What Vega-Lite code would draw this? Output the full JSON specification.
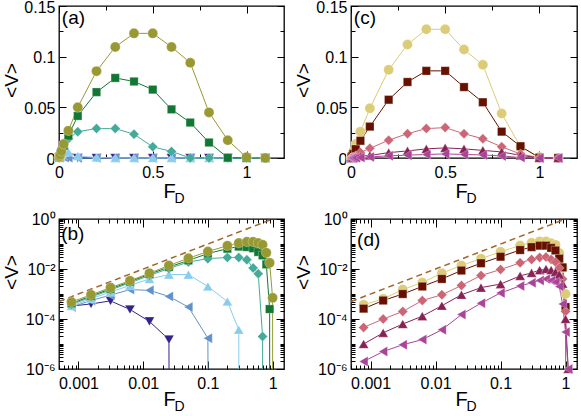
{
"$schema": "https://vega.github.io/schema/vega-lite/v6.json",
"autosize": "none",
"padding": {"left": 59, "top": 6, "right": 522, "bottom": 410},
"config": {
  "font": "Liberation Sans",
  "view": {"stroke": "black", "strokeWidth": 1.3},
  "axis": {"grid": false, "domain": false, "labelFontSize": 16, "labelColor": "black", "labelFont": "Liberation Sans", "titleFont": "Liberation Sans", "titleFontWeight": "normal", "titleColor": "black", "labelFlush": false, "labelOverlap": false},
  "point": {"stroke": "white", "strokeWidth": 0.8, "strokeOpacity": 0.35},
  "text": {"font": "Liberation Sans", "fontSize": 19}
},
"datasets": {
"L": [
{"s":"n","x":0.00078125,"v":0.00033},{"s":"n","x":0.0015625,"v":0.0004},{"s":"n","x":0.003125,"v":0.00053},{"s":"n","x":0.00625,"v":0.00024},{"s":"n","x":0.0125,"v":0.00008},{"s":"n","x":0.025,"v":0.000015},{"s":"n","x":0.05,"v":0},{"s":"n","x":0.1,"v":0},{"s":"n","x":0.2,"v":0},{"s":"n","x":0.3,"v":0},{"s":"n","x":0.4,"v":0},{"s":"n","x":0.5,"v":0},{"s":"n","x":0.6,"v":0},{"s":"n","x":0.7,"v":0},{"s":"n","x":0.8,"v":0},{"s":"n","x":0.9,"v":0},{"s":"n","x":1,"v":0},{"s":"n","x":1.1,"v":0},
{"s":"sb","x":0.00078125,"v":0.0003},{"s":"sb","x":0.0015625,"v":0.00055},{"s":"sb","x":0.003125,"v":0.0009},{"s":"sb","x":0.00625,"v":0.0015},{"s":"sb","x":0.0125,"v":0.0014},{"s":"sb","x":0.025,"v":0.0008},{"s":"sb","x":0.05,"v":0.0003},{"s":"sb","x":0.1,"v":0.000017},{"s":"sb","x":0.2,"v":0},{"s":"sb","x":0.3,"v":0},{"s":"sb","x":0.4,"v":0},{"s":"sb","x":0.5,"v":0},{"s":"sb","x":0.6,"v":0},{"s":"sb","x":0.7,"v":0},{"s":"sb","x":0.8,"v":0},{"s":"sb","x":0.9,"v":0},{"s":"sb","x":1,"v":0},{"s":"sb","x":1.1,"v":0},
{"s":"lb","x":0.00078125,"v":0.00033},{"s":"lb","x":0.0015625,"v":0.00065},{"s":"lb","x":0.003125,"v":0.0012},{"s":"lb","x":0.00625,"v":0.0022},{"s":"lb","x":0.0125,"v":0.004},{"s":"lb","x":0.025,"v":0.006},{"s":"lb","x":0.05,"v":0.006},{"s":"lb","x":0.1,"v":0.002},{"s":"lb","x":0.2,"v":0.0005},{"s":"lb","x":0.3,"v":0.000037},{"s":"lb","x":0.4,"v":0},{"s":"lb","x":0.5,"v":0},{"s":"lb","x":0.6,"v":0},{"s":"lb","x":0.7,"v":0},{"s":"lb","x":0.8,"v":0},{"s":"lb","x":0.9,"v":0},{"s":"lb","x":1,"v":0},{"s":"lb","x":1.1,"v":0},
{"s":"t","x":0.00078125,"v":0.00038},{"s":"t","x":0.0015625,"v":0.00075},{"s":"t","x":0.003125,"v":0.00145},{"s":"t","x":0.00625,"v":0.0028},{"s":"t","x":0.0125,"v":0.0055},{"s":"t","x":0.025,"v":0.0105},{"s":"t","x":0.05,"v":0.019},{"s":"t","x":0.1,"v":0.026},{"s":"t","x":0.2,"v":0.029},{"s":"t","x":0.3,"v":0.029},{"s":"t","x":0.4,"v":0.0235},{"s":"t","x":0.5,"v":0.011},{"s":"t","x":0.6,"v":0.0065},{"s":"t","x":0.7,"v":0.00002},{"s":"t","x":0.8,"v":0},{"s":"t","x":0.9,"v":0},{"s":"t","x":1,"v":0},{"s":"t","x":1.1,"v":0},
{"s":"g","x":0.00078125,"v":0.00042},{"s":"g","x":0.0015625,"v":0.00083},{"s":"g","x":0.003125,"v":0.0016},{"s":"g","x":0.00625,"v":0.0031},{"s":"g","x":0.0125,"v":0.0062},{"s":"g","x":0.025,"v":0.012},{"s":"g","x":0.05,"v":0.022},{"s":"g","x":0.1,"v":0.0415},{"s":"g","x":0.2,"v":0.065},{"s":"g","x":0.3,"v":0.079},{"s":"g","x":0.4,"v":0.0755},{"s":"g","x":0.5,"v":0.0675},{"s":"g","x":0.6,"v":0.048},{"s":"g","x":0.7,"v":0.035},{"s":"g","x":0.8,"v":0.0153},{"s":"g","x":0.9,"v":0.00025},{"s":"g","x":1,"v":0},{"s":"g","x":1.1,"v":0},
{"s":"o","x":0.00078125,"v":0.00048},{"s":"o","x":0.0015625,"v":0.00093},{"s":"o","x":0.003125,"v":0.0018},{"s":"o","x":0.00625,"v":0.0034},{"s":"o","x":0.0125,"v":0.0068},{"s":"o","x":0.025,"v":0.0138},{"s":"o","x":0.05,"v":0.027},{"s":"o","x":0.1,"v":0.05},{"s":"o","x":0.2,"v":0.0857},{"s":"o","x":0.3,"v":0.1096},{"s":"o","x":0.4,"v":0.123},{"s":"o","x":0.5,"v":0.123},{"s":"o","x":0.6,"v":0.1096},{"s":"o","x":0.7,"v":0.094},{"s":"o","x":0.8,"v":0.045},{"s":"o","x":0.9,"v":0.0176},{"s":"o","x":1,"v":0.0007},{"s":"o","x":1.1,"v":0}
],
"R": [
{"s":"c","x":0.00078125,"v":0.00037},{"s":"c","x":0.0015625,"v":0.00064},{"s":"c","x":0.003125,"v":0.0015},{"s":"c","x":0.00625,"v":0.0029},{"s":"c","x":0.0125,"v":0.0068},{"s":"c","x":0.025,"v":0.0138},{"s":"c","x":0.05,"v":0.026},{"s":"c","x":0.1,"v":0.049},{"s":"c","x":0.2,"v":0.087},{"s":"c","x":0.3,"v":0.112},{"s":"c","x":0.4,"v":0.127},{"s":"c","x":0.5,"v":0.127},{"s":"c","x":0.6,"v":0.107},{"s":"c","x":0.7,"v":0.092},{"s":"c","x":0.8,"v":0.044},{"s":"c","x":0.9,"v":0.011},{"s":"c","x":1,"v":0.001},{"s":"c","x":1.1,"v":0},
{"s":"q","x":0.00078125,"v":0.00026},{"s":"q","x":0.0015625,"v":0.00055},{"s":"q","x":0.003125,"v":0.001},{"s":"q","x":0.00625,"v":0.002},{"s":"q","x":0.0125,"v":0.004},{"s":"q","x":0.025,"v":0.0087},{"s":"q","x":0.05,"v":0.017},{"s":"q","x":0.1,"v":0.031},{"s":"q","x":0.2,"v":0.0575},{"s":"q","x":0.3,"v":0.075},{"s":"q","x":0.4,"v":0.086},{"s":"q","x":0.5,"v":0.086},{"s":"q","x":0.6,"v":0.07},{"s":"q","x":0.7,"v":0.055},{"s":"q","x":0.8,"v":0.026},{"s":"q","x":0.9,"v":0.0116},{"s":"q","x":1,"v":0.0003},{"s":"q","x":1.1,"v":0},
{"s":"p","x":0.00078125,"v":0.000046},{"s":"p","x":0.0015625,"v":0.0001},{"s":"p","x":0.003125,"v":0.0002},{"s":"p","x":0.00625,"v":0.00055},{"s":"p","x":0.0125,"v":0.00093},{"s":"p","x":0.025,"v":0.0022},{"s":"p","x":0.05,"v":0.0055},{"s":"p","x":0.1,"v":0.0095},{"s":"p","x":0.2,"v":0.0176},{"s":"p","x":0.3,"v":0.024},{"s":"p","x":0.4,"v":0.029},{"s":"p","x":0.5,"v":0.03},{"s":"p","x":0.6,"v":0.024},{"s":"p","x":0.7,"v":0.019},{"s":"p","x":0.8,"v":0.011},{"s":"p","x":0.9,"v":0.004},{"s":"p","x":1,"v":0.0002},{"s":"p","x":1.1,"v":0},
{"s":"w","x":0.00078125,"v":0.00001},{"s":"w","x":0.0015625,"v":0.000028},{"s":"w","x":0.003125,"v":0.000063},{"s":"w","x":0.00625,"v":0.00013},{"s":"w","x":0.0125,"v":0.00034},{"s":"w","x":0.025,"v":0.00093},{"s":"w","x":0.05,"v":0.0018},{"s":"w","x":0.1,"v":0.0025},{"s":"w","x":0.2,"v":0.0053},{"s":"w","x":0.3,"v":0.007},{"s":"w","x":0.4,"v":0.009},{"s":"w","x":0.5,"v":0.01},{"s":"w","x":0.6,"v":0.009},{"s":"w","x":0.7,"v":0.0075},{"s":"w","x":0.8,"v":0.006},{"s":"w","x":0.9,"v":0.0026},{"s":"w","x":1,"v":0.0001},{"s":"w","x":1.1,"v":0.000001},
{"s":"m","x":0.00078125,"v":0.000002},{"s":"m","x":0.0015625,"v":0.000005},{"s":"m","x":0.003125,"v":0.0000093},{"s":"m","x":0.00625,"v":0.000015},{"s":"m","x":0.0125,"v":0.000037},{"s":"m","x":0.025,"v":0.00015},{"s":"m","x":0.05,"v":0.00043},{"s":"m","x":0.1,"v":0.0011},{"s":"m","x":0.2,"v":0.0021},{"s":"m","x":0.3,"v":0.0028},{"s":"m","x":0.4,"v":0.0035},{"s":"m","x":0.5,"v":0.004},{"s":"m","x":0.6,"v":0.0035},{"s":"m","x":0.7,"v":0.003},{"s":"m","x":0.8,"v":0.002},{"s":"m","x":0.9,"v":0.0004},{"s":"m","x":1,"v":0.00003},{"s":"m","x":1.1,"v":0.000001}
]
},
"columns": 2,
"spacing": {"row": 61, "column": 67},
"bounds": "flush",
"resolve": {"scale": {"color": "independent", "shape": "independent", "x": "independent", "y": "independent"}},
"concat": [
{
 "width": 225, "height": 152,
 "data": {"name": "L"},
 "resolve": {"axis": {"x": "independent", "y": "independent"}},
 "layer": [
  {"mark": {"type": "line", "strokeWidth": 1},
   "encoding": {
    "x": {"field": "x", "type": "quantitative", "scale": {"domain": [0, 1.2], "nice": false, "zero": false}, "axis": {"orient": "bottom", "values": [0, 0.5, 1], "labelExpr": "format(datum.value, '.2~g')", "ticks": false, "labelPadding": 6, "title": "F", "titleFontSize": 20, "titleX": 110, "titleY": 39, "titleAlign": "center", "titleBaseline": "alphabetic"}},
    "y": {"field": "v", "type": "quantitative", "scale": {"domain": [0, 0.15], "nice": false, "zero": false}, "axis": {"orient": "left", "values": [0, 0.05, 0.1, 0.15], "labelExpr": "format(datum.value, '.2~g')", "ticks": false, "labelPadding": 4, "labelOffset": 1, "title": "<V>", "titleFontSize": 19, "titleX": -42, "titleY": 74, "titleAlign": "center", "titleBaseline": "alphabetic", "titleAngle": -90}},
    "color": {"field": "s", "type": "nominal", "scale": {"domain": ["n","sb","lb","t","g","o"], "range": ["#332288","#5F91CD","#88CCEE","#44AA99","#117733","#999933"]}, "legend": null}
   }},
  {"mark": {"type": "point", "filled": true, "opacity": 1},
   "encoding": {
    "x": {"field": "x", "type": "quantitative", "axis": null},
    "y": {"field": "v", "type": "quantitative", "axis": null},
    "color": {"field": "s", "type": "nominal", "legend": null},
    "shape": {"field": "s", "type": "nominal", "scale": {"domain": ["n","sb","lb","t","g","o"], "range": ["triangle-down","triangle-left","triangle-up","diamond","square","circle"]}, "legend": null},
    "size": {"condition": {"test": "datum.s === 'g'", "value": 70}, "value": 100}
   }},
  {"data": {"values": [{"x": 0.015, "v": 0.138, "t": "(a)"}]},
   "mark": {"type": "text", "align": "left", "baseline": "middle", "fontSize": 19},
   "encoding": {"x": {"field": "x", "type": "quantitative", "axis": null}, "y": {"field": "v", "type": "quantitative", "axis": null}, "text": {"field": "t"}}},
  {"mark": {"type": "point", "opacity": 0},
   "encoding": {
    "x": {"field": "x", "type": "quantitative", "axis": {"orient": "bottom", "values": [0,0.25,0.5,0.75,1], "labels": false, "ticks": true, "tickColor": "black", "tickWidth": 1, "tickSize": {"condition": {"test": "abs(datum.value*2-round(datum.value*2))<1e-6", "value": -7}, "value": -4}, "title": null}},
    "y": {"field": "v", "type": "quantitative", "axis": {"orient": "left", "values": [0,0.025,0.05,0.075,0.1,0.125,0.15], "labels": false, "ticks": true, "tickColor": "black", "tickWidth": 1, "tickSize": {"condition": {"test": "abs(datum.value*20-round(datum.value*20))<1e-6", "value": -7}, "value": -4}, "title": null}}
   }},
  {"mark": {"type": "point", "opacity": 0},
   "encoding": {
    "x": {"field": "x", "type": "quantitative", "axis": {"orient": "top", "values": [0,0.25,0.5,0.75,1], "labels": false, "ticks": true, "tickColor": "black", "tickWidth": 1, "tickSize": {"condition": {"test": "abs(datum.value*2-round(datum.value*2))<1e-6", "value": -7}, "value": -4}, "title": null}},
    "y": {"field": "v", "type": "quantitative", "axis": {"orient": "right", "values": [0,0.025,0.05,0.075,0.1,0.125,0.15], "labels": false, "ticks": true, "tickColor": "black", "tickWidth": 1, "tickSize": {"condition": {"test": "abs(datum.value*20-round(datum.value*20))<1e-6", "value": -7}, "value": -4}, "title": null}}
   }},
  {"mark": {"type": "point", "opacity": 0},
   "encoding": {
    "x": {"field": "x", "type": "quantitative", "axis": {"orient": "bottom", "labels": false, "ticks": false, "title": "D", "titleFontSize": 14, "titleX": 120, "titleY": 44, "titleAlign": "center", "titleBaseline": "alphabetic"}},
    "y": {"field": "v", "type": "quantitative", "axis": null}
   }}
 ]
},
{
 "width": 226, "height": 152,
 "data": {"name": "R"},
 "resolve": {"axis": {"x": "independent", "y": "independent"}},
 "layer": [
  {"mark": {"type": "line", "strokeWidth": 1},
   "encoding": {
    "x": {"field": "x", "type": "quantitative", "scale": {"domain": [0, 1.2], "nice": false, "zero": false}, "axis": {"orient": "bottom", "values": [0, 0.5, 1], "labelExpr": "format(datum.value, '.2~g')", "ticks": false, "labelPadding": 6, "title": "F", "titleFontSize": 20, "titleX": 110, "titleY": 39, "titleAlign": "center", "titleBaseline": "alphabetic"}},
    "y": {"field": "v", "type": "quantitative", "scale": {"domain": [0, 0.15], "nice": false, "zero": false}, "axis": {"orient": "left", "values": [0, 0.05, 0.1, 0.15], "labelExpr": "format(datum.value, '.2~g')", "ticks": false, "labelPadding": 4, "labelOffset": 1, "title": "<V>", "titleFontSize": 19, "titleX": -42, "titleY": 74, "titleAlign": "center", "titleBaseline": "alphabetic", "titleAngle": -90}},
    "color": {"field": "s", "type": "nominal", "scale": {"domain": ["c","q","p","w","m"], "range": ["#DDCC77","#661100","#CC6677","#882255","#AA4499"]}, "legend": null}
   }},
  {"mark": {"type": "point", "filled": true, "opacity": 1},
   "encoding": {
    "x": {"field": "x", "type": "quantitative", "axis": null},
    "y": {"field": "v", "type": "quantitative", "axis": null},
    "color": {"field": "s", "type": "nominal", "legend": null},
    "shape": {"field": "s", "type": "nominal", "scale": {"domain": ["c","q","p","w","m"], "range": ["circle","square","diamond","triangle-up","triangle-left"]}, "legend": null},
    "size": {"condition": {"test": "datum.s === 'q'", "value": 70}, "value": 100}
   }},
  {"data": {"values": [{"x": 0.015, "v": 0.138, "t": "(c)"}]},
   "mark": {"type": "text", "align": "left", "baseline": "middle", "fontSize": 19},
   "encoding": {"x": {"field": "x", "type": "quantitative", "axis": null}, "y": {"field": "v", "type": "quantitative", "axis": null}, "text": {"field": "t"}}},
  {"mark": {"type": "point", "opacity": 0},
   "encoding": {
    "x": {"field": "x", "type": "quantitative", "axis": {"orient": "bottom", "values": [0,0.25,0.5,0.75,1], "labels": false, "ticks": true, "tickColor": "black", "tickWidth": 1, "tickSize": {"condition": {"test": "abs(datum.value*2-round(datum.value*2))<1e-6", "value": -7}, "value": -4}, "title": null}},
    "y": {"field": "v", "type": "quantitative", "axis": {"orient": "left", "values": [0,0.025,0.05,0.075,0.1,0.125,0.15], "labels": false, "ticks": true, "tickColor": "black", "tickWidth": 1, "tickSize": {"condition": {"test": "abs(datum.value*20-round(datum.value*20))<1e-6", "value": -7}, "value": -4}, "title": null}}
   }},
  {"mark": {"type": "point", "opacity": 0},
   "encoding": {
    "x": {"field": "x", "type": "quantitative", "axis": {"orient": "top", "values": [0,0.25,0.5,0.75,1], "labels": false, "ticks": true, "tickColor": "black", "tickWidth": 1, "tickSize": {"condition": {"test": "abs(datum.value*2-round(datum.value*2))<1e-6", "value": -7}, "value": -4}, "title": null}},
    "y": {"field": "v", "type": "quantitative", "axis": {"orient": "right", "values": [0,0.025,0.05,0.075,0.1,0.125,0.15], "labels": false, "ticks": true, "tickColor": "black", "tickWidth": 1, "tickSize": {"condition": {"test": "abs(datum.value*20-round(datum.value*20))<1e-6", "value": -7}, "value": -4}, "title": null}}
   }},
  {"mark": {"type": "point", "opacity": 0},
   "encoding": {
    "x": {"field": "x", "type": "quantitative", "axis": {"orient": "bottom", "labels": false, "ticks": false, "title": "D", "titleFontSize": 14, "titleX": 120, "titleY": 44, "titleAlign": "center", "titleBaseline": "alphabetic"}},
    "y": {"field": "v", "type": "quantitative", "axis": null}
   }}
 ]
},
{
 "width": 225, "height": 150,
 "data": {"name": "L"},
 "resolve": {"axis": {"x": "independent", "y": "independent"}},
 "layer": [
  {"transform": [{"calculate": "max(datum.v, 1e-300)", "as": "v"}],
   "mark": {"type": "line", "strokeWidth": 1, "clip": true},
   "encoding": {
    "x": {"field": "x", "type": "quantitative", "scale": {"type": "log", "domain": [0.0005, 1.5], "nice": false}, "axis": {"orient": "bottom", "values": [0.001, 0.01, 0.1, 1], "labelExpr": "format(datum.value, '~g')", "ticks": false, "labelPadding": 6, "title": "F", "titleFontSize": 20, "titleX": 110, "titleY": 36, "titleAlign": "center", "titleBaseline": "alphabetic"}},
    "y": {"field": "v", "type": "quantitative", "scale": {"type": "log", "domain": [0.000001, 1], "nice": false}, "axis": {"orient": "left", "values": [0.000001, 0.0001, 0.01, 1], "labelExpr": "datum.value > 0.5 ? '10⁰' : datum.value > 0.005 ? '10⁻²' : datum.value > 0.00005 ? '10⁻⁴' : '10⁻⁶'", "ticks": false, "labelPadding": 4, "title": "<V>", "titleFontSize": 19, "titleX": -42, "titleY": 53, "titleAlign": "center", "titleBaseline": "alphabetic", "titleAngle": -90}},
    "color": {"field": "s", "type": "nominal", "scale": {"domain": ["n","sb","lb","t","g","o"], "range": ["#332288","#5F91CD","#88CCEE","#44AA99","#117733","#999933"]}, "legend": null}
   }},
  {"data": {"values": [{"x": 0.0005, "v": 0.0005}, {"x": 1, "v": 1}]},
   "mark": {"type": "line", "strokeWidth": 1.5, "strokeDash": [6, 4], "color": "#A0662E"},
   "encoding": {"x": {"field": "x", "type": "quantitative", "axis": null}, "y": {"field": "v", "type": "quantitative", "axis": null}}},
  {"transform": [{"filter": "datum.v > 0"}],
   "mark": {"type": "point", "filled": true, "opacity": 1},
   "encoding": {
    "x": {"field": "x", "type": "quantitative", "axis": null},
    "y": {"field": "v", "type": "quantitative", "axis": null},
    "color": {"field": "s", "type": "nominal", "legend": null},
    "shape": {"field": "s", "type": "nominal", "scale": {"domain": ["n","sb","lb","t","g","o"], "range": ["triangle-down","triangle-left","triangle-up","diamond","square","circle"]}, "legend": null},
    "size": {"condition": {"test": "datum.s === 'g'", "value": 70}, "value": 100}
   }},
  {"data": {"values": [{"x": 0.00054, "v": 0.25, "t": "(b)"}]},
   "mark": {"type": "text", "align": "left", "baseline": "middle", "fontSize": 19},
   "encoding": {"x": {"field": "x", "type": "quantitative", "axis": null}, "y": {"field": "v", "type": "quantitative", "axis": null}, "text": {"field": "t"}}},
  {"transform": [{"filter": "datum.v > 0"}],
   "mark": {"type": "point", "opacity": 0},
   "encoding": {
    "x": {"field": "x", "type": "quantitative", "axis": {"orient": "bottom", "values": [0.0005,0.0006,0.0007,0.0008,0.0009,0.001,0.002,0.003,0.004,0.005,0.006,0.007,0.008,0.009,0.01,0.02,0.03,0.04,0.05,0.06,0.07,0.08,0.09,0.1,0.2,0.3,0.4,0.5,0.6,0.7,0.8,0.9,1], "labels": false, "ticks": true, "tickColor": "black", "tickWidth": 1, "tickSize": {"condition": {"test": "abs(log(datum.value)/LN10-round(log(datum.value)/LN10))<1e-6", "value": -8}, "value": -4}, "title": null}},
    "y": {"field": "v", "type": "quantitative", "axis": {"orient": "left", "values": [0.000001,0.000002,0.000003,0.000004,0.000005,0.000006,0.000007,0.000008,0.000009,0.00001,0.00002,0.00003,0.00004,0.00005,0.00006,0.00007,0.00008,0.00009,0.0001,0.0002,0.0003,0.0004,0.0005,0.0006,0.0007,0.0008,0.0009,0.001,0.002,0.003,0.004,0.005,0.006,0.007,0.008,0.009,0.01,0.02,0.03,0.04,0.05,0.06,0.07,0.08,0.09,0.1,0.2,0.3,0.4,0.5,0.6,0.7,0.8,0.9,1], "labels": false, "ticks": true, "tickColor": "black", "tickWidth": 1, "tickSize": {"condition": {"test": "abs(log(datum.value)/LN10-round(log(datum.value)/LN10))<1e-6 && round(log(datum.value)/LN10)%2==0", "value": -8}, "value": -4}, "title": null}}
   }},
  {"transform": [{"filter": "datum.v > 0"}],
   "mark": {"type": "point", "opacity": 0},
   "encoding": {
    "x": {"field": "x", "type": "quantitative", "axis": {"orient": "top", "values": [0.0005,0.0006,0.0007,0.0008,0.0009,0.001,0.002,0.003,0.004,0.005,0.006,0.007,0.008,0.009,0.01,0.02,0.03,0.04,0.05,0.06,0.07,0.08,0.09,0.1,0.2,0.3,0.4,0.5,0.6,0.7,0.8,0.9,1], "labels": false, "ticks": true, "tickColor": "black", "tickWidth": 1, "tickSize": {"condition": {"test": "abs(log(datum.value)/LN10-round(log(datum.value)/LN10))<1e-6", "value": -8}, "value": -4}, "title": null}},
    "y": {"field": "v", "type": "quantitative", "axis": {"orient": "right", "values": [0.000001,0.000002,0.000003,0.000004,0.000005,0.000006,0.000007,0.000008,0.000009,0.00001,0.00002,0.00003,0.00004,0.00005,0.00006,0.00007,0.00008,0.00009,0.0001,0.0002,0.0003,0.0004,0.0005,0.0006,0.0007,0.0008,0.0009,0.001,0.002,0.003,0.004,0.005,0.006,0.007,0.008,0.009,0.01,0.02,0.03,0.04,0.05,0.06,0.07,0.08,0.09,0.1,0.2,0.3,0.4,0.5,0.6,0.7,0.8,0.9,1], "labels": false, "ticks": true, "tickColor": "black", "tickWidth": 1, "tickSize": {"condition": {"test": "abs(log(datum.value)/LN10-round(log(datum.value)/LN10))<1e-6 && round(log(datum.value)/LN10)%2==0", "value": -8}, "value": -4}, "title": null}}
   }},
  {"transform": [{"filter": "datum.v > 0"}],
   "mark": {"type": "point", "opacity": 0},
   "encoding": {
    "x": {"field": "x", "type": "quantitative", "axis": {"orient": "bottom", "labels": false, "ticks": false, "title": "D", "titleFontSize": 14, "titleX": 120, "titleY": 41, "titleAlign": "center", "titleBaseline": "alphabetic"}},
    "y": {"field": "v", "type": "quantitative", "axis": null}
   }}
 ]
},
{
 "width": 226, "height": 150,
 "data": {"name": "R"},
 "resolve": {"axis": {"x": "independent", "y": "independent"}},
 "layer": [
  {"transform": [{"calculate": "max(datum.v, 1e-300)", "as": "v"}],
   "mark": {"type": "line", "strokeWidth": 1, "clip": true},
   "encoding": {
    "x": {"field": "x", "type": "quantitative", "scale": {"type": "log", "domain": [0.0005, 1.5], "nice": false}, "axis": {"orient": "bottom", "values": [0.001, 0.01, 0.1, 1], "labelExpr": "format(datum.value, '~g')", "ticks": false, "labelPadding": 6, "title": "F", "titleFontSize": 20, "titleX": 110, "titleY": 36, "titleAlign": "center", "titleBaseline": "alphabetic"}},
    "y": {"field": "v", "type": "quantitative", "scale": {"type": "log", "domain": [0.000001, 1], "nice": false}, "axis": {"orient": "left", "values": [0.000001, 0.0001, 0.01, 1], "labelExpr": "datum.value > 0.5 ? '10⁰' : datum.value > 0.005 ? '10⁻²' : datum.value > 0.00005 ? '10⁻⁴' : '10⁻⁶'", "ticks": false, "labelPadding": 4, "title": "<V>", "titleFontSize": 19, "titleX": -42, "titleY": 53, "titleAlign": "center", "titleBaseline": "alphabetic", "titleAngle": -90}},
    "color": {"field": "s", "type": "nominal", "scale": {"domain": ["c","q","p","w","m"], "range": ["#DDCC77","#661100","#CC6677","#882255","#AA4499"]}, "legend": null}
   }},
  {"data": {"values": [{"x": 0.0005, "v": 0.0005}, {"x": 1, "v": 1}]},
   "mark": {"type": "line", "strokeWidth": 1.5, "strokeDash": [6, 4], "color": "#A0662E"},
   "encoding": {"x": {"field": "x", "type": "quantitative", "axis": null}, "y": {"field": "v", "type": "quantitative", "axis": null}}},
  {"transform": [{"filter": "datum.v > 0"}],
   "mark": {"type": "point", "filled": true, "opacity": 1},
   "encoding": {
    "x": {"field": "x", "type": "quantitative", "axis": null},
    "y": {"field": "v", "type": "quantitative", "axis": null},
    "color": {"field": "s", "type": "nominal", "legend": null},
    "shape": {"field": "s", "type": "nominal", "scale": {"domain": ["c","q","p","w","m"], "range": ["circle","square","diamond","triangle-up","triangle-left"]}, "legend": null},
    "size": {"condition": {"test": "datum.s === 'q'", "value": 70}, "value": 100}
   }},
  {"data": {"values": [{"x": 0.00062, "v": 0.145, "t": "(d)"}]},
   "mark": {"type": "text", "align": "left", "baseline": "middle", "fontSize": 19},
   "encoding": {"x": {"field": "x", "type": "quantitative", "axis": null}, "y": {"field": "v", "type": "quantitative", "axis": null}, "text": {"field": "t"}}},
  {"transform": [{"filter": "datum.v > 0"}],
   "mark": {"type": "point", "opacity": 0},
   "encoding": {
    "x": {"field": "x", "type": "quantitative", "axis": {"orient": "bottom", "values": [0.0005,0.0006,0.0007,0.0008,0.0009,0.001,0.002,0.003,0.004,0.005,0.006,0.007,0.008,0.009,0.01,0.02,0.03,0.04,0.05,0.06,0.07,0.08,0.09,0.1,0.2,0.3,0.4,0.5,0.6,0.7,0.8,0.9,1], "labels": false, "ticks": true, "tickColor": "black", "tickWidth": 1, "tickSize": {"condition": {"test": "abs(log(datum.value)/LN10-round(log(datum.value)/LN10))<1e-6", "value": -8}, "value": -4}, "title": null}},
    "y": {"field": "v", "type": "quantitative", "axis": {"orient": "left", "values": [0.000001,0.000002,0.000003,0.000004,0.000005,0.000006,0.000007,0.000008,0.000009,0.00001,0.00002,0.00003,0.00004,0.00005,0.00006,0.00007,0.00008,0.00009,0.0001,0.0002,0.0003,0.0004,0.0005,0.0006,0.0007,0.0008,0.0009,0.001,0.002,0.003,0.004,0.005,0.006,0.007,0.008,0.009,0.01,0.02,0.03,0.04,0.05,0.06,0.07,0.08,0.09,0.1,0.2,0.3,0.4,0.5,0.6,0.7,0.8,0.9,1], "labels": false, "ticks": true, "tickColor": "black", "tickWidth": 1, "tickSize": {"condition": {"test": "abs(log(datum.value)/LN10-round(log(datum.value)/LN10))<1e-6 && round(log(datum.value)/LN10)%2==0", "value": -8}, "value": -4}, "title": null}}
   }},
  {"transform": [{"filter": "datum.v > 0"}],
   "mark": {"type": "point", "opacity": 0},
   "encoding": {
    "x": {"field": "x", "type": "quantitative", "axis": {"orient": "top", "values": [0.0005,0.0006,0.0007,0.0008,0.0009,0.001,0.002,0.003,0.004,0.005,0.006,0.007,0.008,0.009,0.01,0.02,0.03,0.04,0.05,0.06,0.07,0.08,0.09,0.1,0.2,0.3,0.4,0.5,0.6,0.7,0.8,0.9,1], "labels": false, "ticks": true, "tickColor": "black", "tickWidth": 1, "tickSize": {"condition": {"test": "abs(log(datum.value)/LN10-round(log(datum.value)/LN10))<1e-6", "value": -8}, "value": -4}, "title": null}},
    "y": {"field": "v", "type": "quantitative", "axis": {"orient": "right", "values": [0.000001,0.000002,0.000003,0.000004,0.000005,0.000006,0.000007,0.000008,0.000009,0.00001,0.00002,0.00003,0.00004,0.00005,0.00006,0.00007,0.00008,0.00009,0.0001,0.0002,0.0003,0.0004,0.0005,0.0006,0.0007,0.0008,0.0009,0.001,0.002,0.003,0.004,0.005,0.006,0.007,0.008,0.009,0.01,0.02,0.03,0.04,0.05,0.06,0.07,0.08,0.09,0.1,0.2,0.3,0.4,0.5,0.6,0.7,0.8,0.9,1], "labels": false, "ticks": true, "tickColor": "black", "tickWidth": 1, "tickSize": {"condition": {"test": "abs(log(datum.value)/LN10-round(log(datum.value)/LN10))<1e-6 && round(log(datum.value)/LN10)%2==0", "value": -8}, "value": -4}, "title": null}}
   }},
  {"transform": [{"filter": "datum.v > 0"}],
   "mark": {"type": "point", "opacity": 0},
   "encoding": {
    "x": {"field": "x", "type": "quantitative", "axis": {"orient": "bottom", "labels": false, "ticks": false, "title": "D", "titleFontSize": 14, "titleX": 120, "titleY": 41, "titleAlign": "center", "titleBaseline": "alphabetic"}},
    "y": {"field": "v", "type": "quantitative", "axis": null}
   }}
 ]
}
]
}
